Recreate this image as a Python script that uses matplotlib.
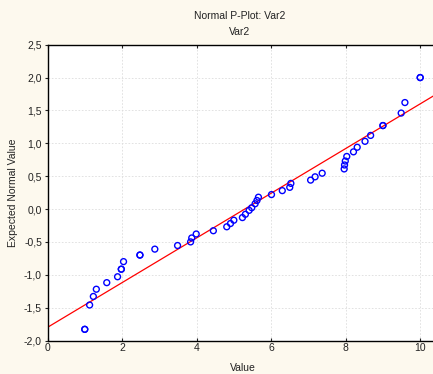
import matplotlib
matplotlib.use('Agg')
import matplotlib.pyplot as plt
from matplotlib.ticker import FuncFormatter

values = [1.0, 1.0, 1.13, 1.23, 1.31, 1.59, 1.88, 1.98, 1.98, 2.04, 2.48, 2.48, 2.88,
          3.49, 3.84, 3.87, 3.99, 4.45, 4.81, 4.91, 5.0, 5.23, 5.31, 5.41, 5.48,
          5.57, 5.62, 5.66, 6.01, 6.30, 6.50, 6.53, 7.06, 7.18, 7.37, 7.96, 7.97,
          7.99, 8.03, 8.21, 8.31, 8.52, 8.67, 9.0, 9.0, 9.49, 9.59, 10.0, 10.0]
expected = [-1.83, -1.83, -1.46, -1.33, -1.22, -1.12, -1.03, -0.915, -0.915, -0.80,
            -0.70, -0.70, -0.61, -0.555, -0.50, -0.44, -0.38, -0.33, -0.27, -0.22,
            -0.17, -0.13, -0.08, -0.02, 0.02, 0.08, 0.13, 0.18, 0.22, 0.28, 0.33,
            0.39, 0.44, 0.49, 0.545, 0.61, 0.67, 0.73, 0.80, 0.87, 0.94, 1.03,
            1.12, 1.27, 1.27, 1.46, 1.62, 2.0, 2.0]

# fitted normal line y = intercept + slope * x
line_intercept = -1.80
line_slope = 0.34

x_ticks = [0, 2, 4, 6, 8, 10]
y_ticks = [-2.0, -1.5, -1.0, -0.5, 0.0, 0.5, 1.0, 1.5, 2.0, 2.5]

plt.rcParams['font.family'] = ['Liberation Sans', 'DejaVu Sans']
bg = '#fdf9ee'

fig = plt.figure(figsize=(4.33, 3.74), dpi=100, facecolor=bg)
ax = fig.add_axes([47.5 / 433, 1 - 340.5 / 374, 1 - 47.5 / 433 + 0.01, (340.5 - 44.7) / 374])
ax.set_facecolor('white')

xmin, xmax = 0, 10.46
ax.plot([xmin, xmax], [line_intercept + line_slope * xmin, line_intercept + line_slope * xmax],
        color='red', lw=0.9, zorder=2)
ax.scatter(values, expected, s=18, facecolors='none', edgecolors='blue', linewidths=1.0, zorder=3)

ax.set_xlim(xmin, xmax)
ax.set_ylim(-2.0, 2.5)
ax.set_xticks(x_ticks)
ax.set_yticks(y_ticks)
ax.yaxis.set_major_formatter(FuncFormatter(lambda v, p: ('%.1f' % v).replace('.', ',')))
ax.grid(True, color='#dddddd', linestyle=(0, (2, 2)), linewidth=0.6)
ax.set_axisbelow(True)

for s in ['left', 'bottom', 'top']:
    ax.spines[s].set_color('black')
    ax.spines[s].set_linewidth(1.0)
ax.spines['right'].set_visible(False)
ax.tick_params(axis='both', labelsize=7.5, length=2, width=0.8, direction='out', pad=2, colors='#222222')
ax.tick_params(top=True, direction='in', which='major', axis='x')

ax.set_xlabel('Value', fontsize=7.5, labelpad=7, color='#222222')
ax.set_ylabel('Expected Normal Value', fontsize=7.5, labelpad=4, color='#222222')
fig.text(240 / 433, 1 - 16 / 374, 'Normal P-Plot: Var2', ha='center', va='center', fontsize=7.5, color='#222222')
fig.text(240 / 433, 1 - 32 / 374, 'Var2', ha='center', va='center', fontsize=7.5, color='#222222')

fig.savefig('out.png', dpi=100, facecolor=bg)
